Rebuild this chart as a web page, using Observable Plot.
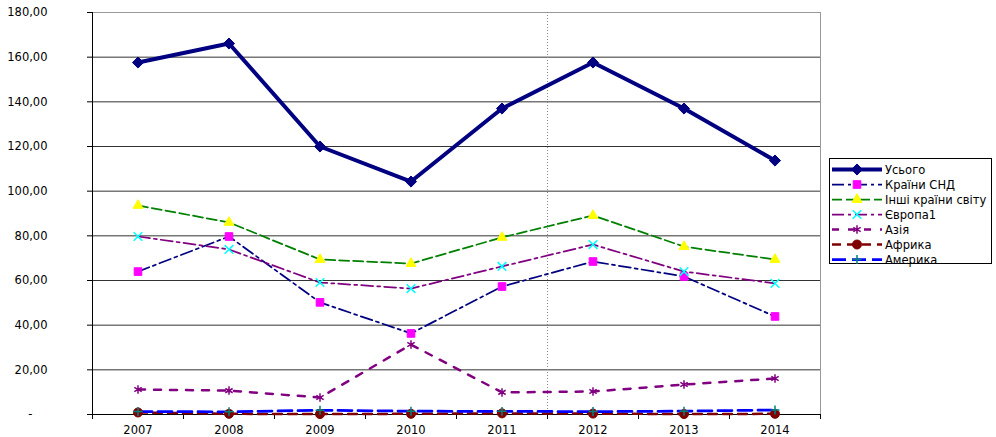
<!DOCTYPE html>
<html><head><meta charset="utf-8">
<script src="https://cdn.jsdelivr.net/npm/d3@7"></script>
<script src="https://cdn.jsdelivr.net/npm/@observablehq/plot@0.6"></script>
<style>
body{margin:0;background:#fff;}
#wrap{position:relative;width:996px;height:437px;font-family:"DejaVu Sans",sans-serif;}
#legend{position:absolute;left:829px;top:158px;width:163px;height:106px;border:1px solid #000;background:#fff;padding-top:3px;box-sizing:border-box;}
.row{height:15px;display:flex;align-items:center;font-size:11.5px;color:#000;white-space:nowrap;}
.row svg{margin-left:2px;margin-right:3px;flex:none;}
</style>
</head><body><div id="wrap"><div id="legend"></div></div>
<script>
const years = [2007, 2008, 2009, 2010, 2011, 2012, 2013, 2014];
const yTicks = [0, 20, 40, 60, 80, 100, 120, 140, 160, 180];
const seriesNames = ["Усього", "Країни СНД", "Інші країни світу", "Європа1", "Азія", "Африка", "Америка"];
const total   = [157.6, 166.1, 120.0, 104.3, 137.0, 157.6, 137.0, 113.7];
const cis     = [64.0, 79.7, 50.2, 36.3, 57.3, 68.5, 61.8, 43.9];
const others  = [93.6, 86.0, 69.4, 67.6, 79.3, 89.1, 75.2, 69.4];
const europe  = [79.7, 73.9, 59.1, 56.4, 66.3, 76.1, 64.0, 58.7];
const asia    = [11.2, 10.7, 7.6, 31.3, 9.9, 10.3, 13.4, 16.1];
const africa  = [0.9, 0.3, 0.2, 0.3, 0.5, 0.4, 0.2, 0.3];
const america = [1.3, 1.2, 1.9, 1.5, 1.4, 1.3, 1.5, 2.0];
const seriesValues = [total, cis, others, europe, asia, africa, america];

const styles = [
  {stroke:"#000080", sw:4, dash:null, symbol:"diamond2", r:5, fill:"#000080", mstroke:"#000080", msw:1},
  {stroke:"#000080", sw:1.75, dash:"12,4,3,4", symbol:"square", r:4.3, fill:"#FF00FF", mstroke:"#FF00FF", msw:1},
  {stroke:"#008000", sw:1.75, dash:"10,4", symbol:"triangle", r:3.7, fill:"#FFFF00", mstroke:"#FFFF00", msw:1},
  {stroke:"#800080", sw:1.75, dash:"12,4,3,4", symbol:"times", r:4, fill:"none", mstroke:"#00FFFF", msw:1.5},
  {stroke:"#800080", sw:2.5, dash:"7,9", symbol:"asterisk", r:4, fill:"none", mstroke:"#800080", msw:1.5},
  {stroke:"#800000", sw:2.5, dash:"9,6", symbol:"circle", r:4.5, fill:"#800000", mstroke:"#800000", msw:1},
  {stroke:"#0000FF", sw:2.75, dash:"14,6", symbol:"plus", r:3, fill:"none", mstroke:"#008080", msw:1.5}
];

const bounds = [...years.map(y => y - 0.5), years[years.length - 1] + 0.5];
const fmt = d => d.toFixed(2).replace(".", ",");

const marks = [
  Plot.ruleY(yTicks.filter(d => d > 0 && d < 180), {stroke:"#333"}),
  Plot.ruleY([180], {stroke:"#999"}),
  Plot.ruleX([bounds[bounds.length - 1]], {stroke:"#999"}),
  Plot.ruleX([2011.5], {stroke:"#888", strokeDasharray:"1,2"}),
  Plot.ruleX([bounds[0]], {stroke:"#000"}),
  Plot.ruleY([0], {stroke:"#000"}),
  Plot.axisY(yTicks.filter(d => d > 0), {tickSize:5, tickPadding:40, tickFormat:fmt, stroke:"#000"}),
  Plot.axisY([0], {tickSize:5, tickPadding:55, tickFormat:() => "-", stroke:"#000"}),
  Plot.axisX(bounds, {tickSize:5, tickFormat:() => "", stroke:"#000"}),
  Plot.axisX(years, {tickSize:0, tickPadding:11, tickFormat:d => String(d)})
];

seriesValues.forEach((vals, k) => {
  const s = styles[k];
  marks.push(Plot.line(years, {x:d => d, y:(d, i) => vals[i], stroke:s.stroke, strokeWidth:s.sw, strokeDasharray:s.dash, strokeLinejoin:"miter"}));
});
seriesValues.forEach((vals, k) => {
  const s = styles[k];
  marks.push(Plot.dot(years, {x:d => d, y:(d, i) => vals[i], symbol:s.symbol, r:s.r, fill:s.fill, stroke:s.mstroke, strokeWidth:s.msw}));
});

const chart = Plot.plot({
  width:996, height:437,
  marginLeft:92, marginRight:176, marginTop:12, marginBottom:23,
  x:{type:"linear", domain:[bounds[0], bounds[bounds.length - 1]], axis:null},
  y:{domain:[0, 180], axis:null},
  style:{fontFamily:"DejaVu Sans, sans-serif", fontSize:"11.5px", color:"#000", background:"#fff"},
  marks
});
document.getElementById("wrap").prepend(chart);

const symMap = {diamond2:d3.symbolDiamond2, square:d3.symbolSquare, triangle:d3.symbolTriangle, times:d3.symbolTimes, asterisk:d3.symbolAsterisk, circle:d3.symbolCircle, plus:d3.symbolPlus};
const legend = d3.select("#legend");
seriesNames.forEach((name, k) => {
  const s = styles[k];
  const row = legend.append("div").attr("class", "row");
  const svg = row.append("svg").attr("width", 50).attr("height", 15);
  svg.append("line").attr("x1", 0).attr("x2", 50).attr("y1", 7.5).attr("y2", 7.5)
    .attr("stroke", s.stroke).attr("stroke-width", s.sw).attr("stroke-dasharray", s.dash);
  svg.append("path").attr("transform", "translate(25,7.5)")
    .attr("d", d3.symbol(symMap[s.symbol], Math.PI * s.r * s.r)())
    .attr("fill", s.fill).attr("stroke", s.mstroke).attr("stroke-width", s.msw);
  row.append("span").text(name);
});
</script>
</body></html>
